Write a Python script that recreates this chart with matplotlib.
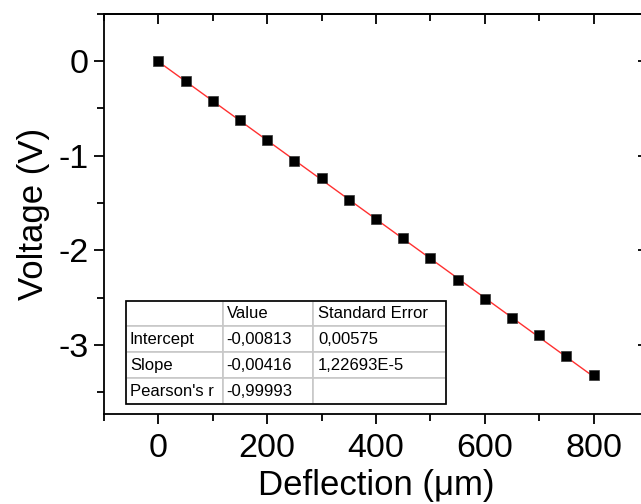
import numpy as np
import matplotlib.pyplot as plt
from matplotlib.ticker import MultipleLocator

plt.rcParams['font.family'] = ['Liberation Sans', 'DejaVu Sans']
plt.rcParams['axes.unicode_minus'] = False

deflection = [0, 50, 100, 150, 200, 250, 300, 350, 400, 450, 500, 550, 600, 650, 700, 750, 800]
voltage = [0.0, -0.21, -0.42, -0.62, -0.84, -1.06, -1.24, -1.47, -1.67, -1.87,
           -2.08, -2.31, -2.52, -2.72, -2.90, -3.12, -3.32]

intercept = -0.00813
slope = -0.00416

table_rows = [
    ['', 'Value', 'Standard Error'],
    ['Intercept', '-0,00813', '0,00575'],
    ['Slope', '-0,00416', '1,22693E-5'],
    ["Pearson's r", '-0,99993', ''],
]

fig = plt.figure(figsize=(6.41, 5.04), dpi=100)
ax = fig.add_axes([0.1622, 0.1786, 0.8488, 0.7946])

xfit = np.array([deflection[0], deflection[-1]])
ax.plot(xfit, intercept + slope * xfit, color='#ff3030', lw=1.0, zorder=2)
ax.plot(deflection, voltage, 's', color='black', ms=6.5, mec='#333333', mew=0.5, zorder=3)

ax.set_xlim(-100, 900)
ax.set_ylim(-3.73, 0.5)

for s in ax.spines.values():
    s.set_linewidth(1.3)

# mirrored axes on top/right with ticks pointing inward
top = ax.secondary_xaxis('top')
right = ax.secondary_yaxis('right')
for a in (ax.xaxis, top.xaxis):
    a.set_major_locator(MultipleLocator(200))
    a.set_minor_locator(MultipleLocator(100))
for a in (ax.yaxis, right.yaxis):
    a.set_major_locator(MultipleLocator(1))
    a.set_minor_locator(MultipleLocator(0.5))

ax.tick_params(which='both', width=1.3, labelsize=24.5, direction='out')
ax.tick_params(axis='x', pad=7)
ax.tick_params(axis='y', pad=4)
for sec in (top, right):
    sec.tick_params(which='both', width=1.3, direction='in', labeltop=False,
                    labelright=False)
    for s in sec.spines.values():
        s.set_linewidth(1.3)
for a in (ax, top, right):
    a.tick_params(which='major', length=7)
    a.tick_params(which='minor', length=5)

ax.set_xlabel('Deflection (\u03bcm)', fontsize=25, labelpad=3)
ax.set_ylabel('Voltage (V)', fontsize=25, labelpad=6)

tbl = ax.table(cellText=table_rows, colWidths=[0.303, 0.281, 0.416],
               cellLoc='left', bbox=[0.0404, 0.025, 0.588, 0.258], zorder=5)
tbl.auto_set_font_size(False)
tbl.set_fontsize(12)
for (r, c), cell in tbl.get_celld().items():
    cell.set_edgecolor('#c8c8c8')
    cell.set_linewidth(1.2)
    cell.PAD = 0.04
    cell.set_facecolor('white')
ax.add_patch(plt.Rectangle((0.0404, 0.025), 0.588, 0.258, transform=ax.transAxes,
                           fill=False, ec='black', lw=1.2, zorder=6))

fig.savefig('out.png', dpi=100)
